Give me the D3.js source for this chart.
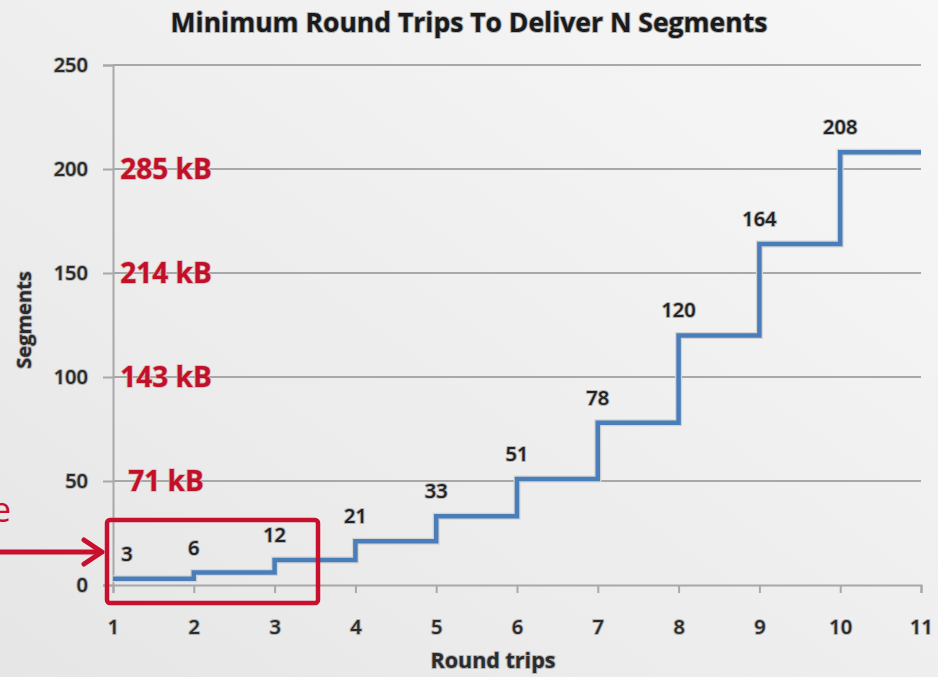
<!DOCTYPE html>
<html>
<head>
<meta charset="utf-8">
<script src="https://cdn.jsdelivr.net/npm/d3@7"></script>
<style>
  html, body { margin: 0; padding: 0; background: #eeeeee; }
  svg { display: block; }
</style>
</head>
<body>
<div id="chart"></div>
<script>
// Round trips on the x axis, cumulative segments delivered after each trip
const roundTrips = [1, 2, 3, 4, 5, 6, 7, 8, 9, 10];
const segments = [3, 6, 12, 21, 33, 51, 78, 120, 164, 208];
const xTicks = [1, 2, 3, 4, 5, 6, 7, 8, 9, 10, 11];
const yTicks = [0, 50, 100, 150, 200, 250];
// Byte equivalents written on the gridlines
const kbAt = [50, 100, 150, 200];
const kbText = ["71 kB", "143 kB", "214 kB", "285 kB"];

const W = 938, H = 677;
const svg = d3.select("#chart").append("svg").attr("width", W).attr("height", H);

const defs = svg.append("defs");
const bg = defs.append("linearGradient").attr("id", "bg")
  .attr("x1", "0").attr("y1", "1").attr("x2", "1").attr("y2", "0");
bg.append("stop").attr("offset", "0").attr("stop-color", "#e6e6e6");
bg.append("stop").attr("offset", "1").attr("stop-color", "#f7f7f7");
svg.append("rect").attr("width", W).attr("height", H).attr("fill", "url(#bg)");

const x = d3.scaleLinear().domain([1, 11]).range([113, 921]);
const y = d3.scaleLinear().domain([0, 250]).range([585, 65]);

const font = "'Open Sans', Lato, sans-serif";
const halo = sel => sel.attr("paint-order", "stroke").attr("stroke", "#b4b4b4")
  .attr("stroke-width", 2).attr("stroke-linejoin", "round");

// Title
svg.append("text").attr("x", 469).attr("y", 32).attr("text-anchor", "middle")
  .attr("font-family", font).attr("font-weight", 700).attr("font-size", 26.5)
  .attr("fill", "#1a1a1a").text("Minimum Round Trips To Deliver N Segments").call(halo);

// Horizontal gridlines
svg.append("g").selectAll("line").data(yTicks.filter(d => d > 0)).join("line")
  .attr("x1", 113).attr("x2", 921).attr("y1", d => y(d)).attr("y2", d => y(d))
  .attr("stroke", "#a8a8a8").attr("stroke-width", 2);

// Y axis
const yAxis = svg.append("g").attr("transform", `translate(${x(1)},0)`)
  .call(d3.axisLeft(y).tickValues(yTicks).tickSize(10).tickPadding(15));
yAxis.select(".domain").attr("stroke", "#a8a8a8").attr("stroke-width", 2);
yAxis.selectAll(".tick line").attr("stroke", "#a8a8a8").attr("stroke-width", 2);
yAxis.selectAll(".tick text").attr("font-family", font).attr("font-size", 20)
  .attr("font-weight", 600).attr("fill", "#2b2b2b").call(halo);

// X axis
const xAxis = svg.append("g").attr("transform", `translate(0,${y(0)})`)
  .call(d3.axisBottom(x).tickValues(xTicks).tickFormat(d3.format("d")).tickSize(8).tickPadding(27));
xAxis.select(".domain").attr("stroke", "#a8a8a8").attr("stroke-width", 2);
xAxis.selectAll(".tick line").attr("stroke", "#a8a8a8").attr("stroke-width", 2);
xAxis.selectAll(".tick text").attr("font-family", font).attr("font-size", 20)
  .attr("font-weight", 600).attr("fill", "#2b2b2b").call(halo);

// Axis titles
svg.append("text").attr("transform", "translate(31,320) rotate(-90)")
  .attr("text-anchor", "middle").attr("font-family", font).attr("font-weight", 700)
  .attr("font-size", 20).attr("fill", "#2b2b2b").text("Segments").call(halo);
svg.append("text").attr("x", 493).attr("y", 668).attr("text-anchor", "middle")
  .attr("font-family", font).attr("font-weight", 700).attr("font-size", 21.5)
  .attr("fill", "#2b2b2b").text("Round trips").call(halo);

// kB labels on the gridlines
svg.append("g").selectAll("text").data(kbAt).join("text")
  .attr("x", 166).attr("y", d => y(d) + 10).attr("text-anchor", "middle")
  .attr("font-family", font).attr("font-weight", 700).attr("font-size", 28)
  .attr("fill", "#c0102a").text((d, i) => kbText[i])
  .attr("paint-order", "stroke").attr("stroke", "#e2b0b0").attr("stroke-width", 1.6);

// Step line: each round trip holds its segment count until the next one
const stepData = roundTrips.map((r, i) => [r, segments[i]]);
stepData.push([11, segments[segments.length - 1]]);
const line = d3.line().x(d => x(d[0])).y(d => y(d[1])).curve(d3.curveStepAfter);
svg.append("path").datum(stepData).attr("d", line).attr("fill", "none")
  .attr("stroke", "#d4d4d4").attr("stroke-width", 7);
svg.append("path").datum(stepData).attr("d", line).attr("fill", "none")
  .attr("stroke", "#4a7ebb").attr("stroke-width", 4.5);

// Value labels above each step
svg.append("g").selectAll("text").data(stepData.slice(0, segments.length)).join("text")
  .attr("x", (d, i) => x(d[0]) + (i === 0 ? 14 : 0)).attr("y", d => y(d[1]) - 18)
  .attr("text-anchor", "middle").attr("font-family", font).attr("font-size", 20)
  .attr("font-weight", 600).attr("fill", "#222").text(d => d[1]).call(halo);

// Highlight box around the first round trips, with pointer arrow
const red = "#c8102e";
svg.append("rect").attr("x", 107).attr("y", 520).attr("width", 211).attr("height", 83)
  .attr("rx", 3).attr("fill", "none").attr("stroke", red).attr("stroke-width", 4.5);
svg.append("line").attr("x1", 0).attr("x2", 101).attr("y1", 552).attr("y2", 552)
  .attr("stroke", red).attr("stroke-width", 5);
svg.append("path").attr("d", "M84,540 L102,552 L84,564").attr("fill", "none")
  .attr("stroke", red).attr("stroke-width", 5).attr("stroke-linecap", "round")
  .attr("stroke-linejoin", "round");
svg.append("text").attr("x", 11).attr("y", 522).attr("text-anchor", "end")
  .attr("font-family", "'Open Sans', sans-serif").attr("font-size", 34)
  .attr("fill", red).text("e");
</script>
</body>
</html>
